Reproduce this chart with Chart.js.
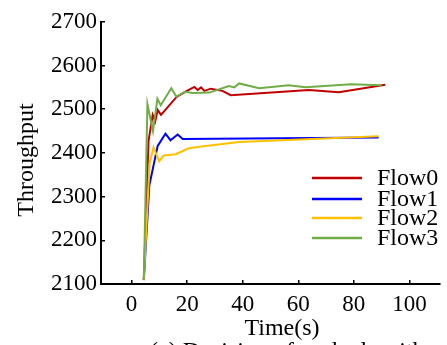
<!DOCTYPE html>
<html>
<head>
<meta charset="utf-8">
<script src="https://cdn.jsdelivr.net/npm/chart.js@4"></script>
<style>
  html, body { margin: 0; padding: 0; background: #fff; }
  #wrap { width: 447px; height: 345px; }
</style>
</head>
<body>
<div id="wrap"><canvas id="flowChart" width="447" height="345"></canvas></div>
<script>
// data
const flowNames = ['Flow0', 'Flow1', 'Flow2', 'Flow3'];
const flowColors = ['#c00000', '#0000ff', '#ffc000', '#70ad47'];

const flow0Time = [4.4, 6.1, 7.6, 8.5, 9.4, 10.6, 16.2, 19.6, 22.6, 23.8, 25, 26.2, 28.5, 32.7, 35.7, 63.8, 74.6, 91.3];
const flow0Tput = [2109, 2427, 2487, 2472, 2498, 2487, 2528, 2541, 2551, 2544, 2550, 2542, 2547, 2542, 2532, 2544, 2539, 2556];

const flow1Time = [4.4, 6.4, 9.4, 12.2, 14, 16.6, 18.4, 88.9];
const flow1Tput = [2109, 2326, 2416, 2444, 2429, 2442, 2432, 2435];

const flow2Time = [4.4, 6.5, 7.9, 9.9, 11.6, 15.9, 20.3, 24.4, 38.7, 88.9];
const flow2Tput = [2109, 2376, 2413, 2381, 2394, 2397, 2410, 2414, 2425, 2438];

const flow3Time = [4.4, 5.7, 7.7, 9.3, 10.5, 14.3, 16.1, 19.3, 22, 28, 35, 37, 38.7, 45.9, 56.6, 62.6, 79, 90];
const flow3Tput = [2109, 2512, 2450, 2524, 2509, 2548, 2529, 2540, 2537, 2538, 2553, 2550, 2559, 2548, 2555, 2550, 2557, 2555];

const timeTicks = [0, 20, 40, 60, 80, 100];
const tputTicks = [2100, 2200, 2300, 2400, 2500, 2600, 2700];

const serif = 'Liberation Serif, DejaVu Serif, serif';

function toPoints(xs, ys) {
    return xs.map((x, i) => ({ x: x, y: ys[i] }));
}

const allTimes = [flow0Time, flow1Time, flow2Time, flow3Time];
const allTputs = [flow0Tput, flow1Tput, flow2Tput, flow3Tput];

// later flows are drawn on top, like the original plot
const datasets = flowNames.map((name, i) => ({
    label: name,
    data: toPoints(allTimes[i], allTputs[i]),
    borderColor: flowColors[i],
    backgroundColor: flowColors[i],
    borderWidth: 2,
    pointRadius: 0,
    tension: 0,
    order: flowNames.length - i
}));

// titles, caption and legend drawn by hand
const decorPlugin = {
    id: 'decor',
    afterDraw(chart) {
        const ctx = chart.ctx;
        ctx.save();
        ctx.fillStyle = '#000';
        ctx.font = '24px ' + serif;

        // x title
        ctx.textAlign = 'center';
        ctx.textBaseline = 'alphabetic';
        ctx.fillText('Time(s)', 282, 335);

        // y title
        ctx.save();
        ctx.translate(33, 160);
        ctx.rotate(-Math.PI / 2);
        ctx.fillText('Throughput', 0, 0);
        ctx.restore();

        // caption (cut off by the bottom edge)
        ctx.textAlign = 'left';
        ctx.fillText('(a) Decision of each algorithm', 150, 358);

        // legend
        const rows = [178, 199, 218, 238];
        chart.data.datasets.forEach((ds, i) => {
            ctx.strokeStyle = ds.borderColor;
            ctx.lineWidth = 2.5;
            ctx.beginPath();
            ctx.moveTo(312, rows[i]);
            ctx.lineTo(362, rows[i]);
            ctx.stroke();
            ctx.fillStyle = '#000';
            ctx.fillText(ds.label, 377, rows[i] + 7);
        });
        ctx.restore();
    }
};

const tickFont = { family: serif, size: 23 };

new Chart(document.getElementById('flowChart'), {
    type: 'line',
    data: { datasets: datasets },
    options: {
        responsive: false,
        animation: false,
        layout: { padding: { top: 14, right: 7, left: 0, bottom: 0 } },
        plugins: { legend: { display: false }, tooltip: { enabled: false } },
        scales: {
            x: {
                type: 'linear',
                min: -11,
                max: 111,
                afterBuildTicks: s => { s.ticks = timeTicks.map(v => ({ value: v })); },
                afterFit: s => { s.height = 61; },
                ticks: { color: '#000', font: tickFont, padding: 11, maxRotation: 0, callback: v => String(v) },
                grid: { drawOnChartArea: false, color: '#000', lineWidth: 1.5, tickLength: -4 },
                border: { color: '#000', width: 2 }
            },
            y: {
                min: 2100,
                max: 2700,
                afterBuildTicks: s => { s.ticks = tputTicks.map(v => ({ value: v })); },
                afterFit: s => { s.width = 101; },
                ticks: { color: '#000', font: tickFont, padding: 8, callback: v => String(v) },
                grid: { drawOnChartArea: false, color: '#000', lineWidth: 1.5, tickLength: -4 },
                border: { color: '#000', width: 2 }
            }
        }
    },
    plugins: [decorPlugin]
});
</script>
</body>
</html>
